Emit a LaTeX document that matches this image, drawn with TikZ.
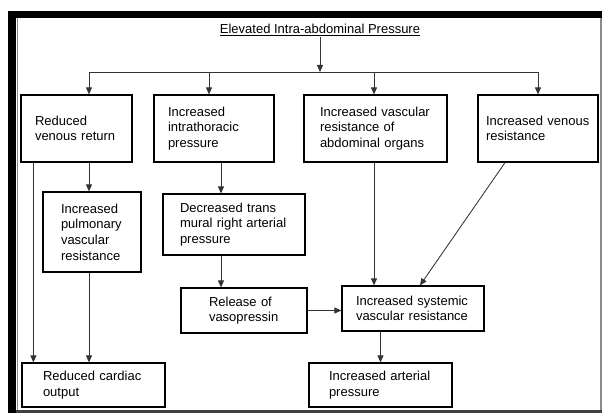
\documentclass[tikz,border=0pt]{standalone}
\usepackage{fontspec}
\setmainfont{Liberation Sans}
\usepackage{tikz}
\usepackage{xcolor}
\usetikzlibrary{arrows.meta}
\definecolor{wiregray}{HTML}{333333}
\definecolor{framegray}{HTML}{8A8A8A}

\begin{document}
\begin{tikzpicture}[
      x=1pt, y=-1pt,
      font=\fontsize{13}{15.7}\selectfont,
      box/.style={draw=black, line width=1.2pt, align=left, inner ysep=0pt,
        execute at begin node={\hyphenpenalty=10000\exhyphenpenalty=10000}},
      heading/.style={inner sep=1pt},
      line/.style={-{Triangle[length=7pt,width=6pt]}, line width=0.85pt, draw=wiregray},
      wire/.style={line width=0.85pt, draw=wiregray}
    ]
      \useasboundingbox (0,0) rectangle (604,414);
      \fill[black] (8,11) rectangle (16,413);
      \fill[black] (8,11) rectangle (602,18.5);
      \draw[framegray, line width=1pt] (17,18.5) -- (17,410);
      \draw[framegray, line width=2pt] (601,18.5) -- (601,412);
      \draw[black!75, line width=2.5pt] (16,411.5) -- (602,411.5);

      \node[heading] (iap) at (320,30) {\underline{Elevated Intra-abdominal Pressure}};

      \node[box, text width=83pt, inner xsep=14pt, minimum height=67pt] (venous) at (76.5,128.5) {Reduced\\venous~return};
      \node[box, text width=92pt, inner xsep=14pt, minimum height=67pt] (thoracic) at (214,128.5) {Increased\\intrathoracic\\pressure};
      \node[box, text width=111pt, inner xsep=16pt, minimum height=67pt] (organs) at (375.5,128.5) {Increased~vascular\\resistance~of\\abdominal~organs};
      \node[box, text width=104pt, inner xsep=8pt, minimum height=67pt] (venres) at (538,128.5) {Increased~venous\\resistance};

      \node[box, text width=62pt, inner xsep=18pt, minimum height=80pt] (pulm) at (92,232) {Increased\\pulmonary\\vascular\\resistance};
      \node[box, text width=108pt, inner xsep=17pt, minimum height=61pt] (trans) at (234,224.5) {Decreased~trans\\mural~right~arterial\\pressure};

      \node[box, text width=70pt, inner xsep=28pt, minimum height=45pt] (vaso) at (244,310.5) {Release~of\\vasopressin};
      \node[box, text width=114pt, inner xsep=14pt, minimum height=45pt] (sys) at (413,308.5) {Increased~systemic\\vascular~resistance};

      \node[box, text width=101pt, inner xsep=21pt, minimum height=44pt] (cardiac) at (93.5,385) {Reduced~cardiac\\output};
      \node[box, text width=103pt, inner xsep=20pt, minimum height=44pt] (arterial) at (380.5,385) {Increased~arterial\\pressure};

      \coordinate (split) at (320,72);
      \coordinate (br1) at (89,72);
      \coordinate (br2) at (209,72);
      \coordinate (br3) at (374,72);
      \coordinate (br4) at (538,72);
      \coordinate (col2) at (221,0);
      \coordinate (vleft) at ([xshift=13pt]venous.south west);

      \draw[line] (iap.south) -- (split);
      \draw[wire] (br1) -- (br4);
      \foreach \b/\n in {br1/venous, br2/thoracic, br3/organs, br4/venres}
        \draw[line] (\b) -- (\b |- \n.north);

      \draw[line] (vleft) -- (vleft |- cardiac.north);
      \draw[line] (venous.south -| br1) -- (pulm.north -| br1);
      \draw[line] (pulm.south -| br1) -- (cardiac.north -| br1);
      \draw[line] (thoracic.south -| col2) -- (trans.north -| col2);
      \draw[line] (trans.south -| col2) -- (vaso.north -| col2);
      \draw[line] (vaso.east) -- (vaso.east -| sys.west);
      \draw[line] (organs.south -| br3) -- (sys.north -| br3);
      \draw[line] ([xshift=-33pt]venres.south) -- ([xshift=7pt]sys.north);
      \draw[line] (sys.south -| arterial.north) -- (arterial.north);
    \end{tikzpicture}
\end{document}
